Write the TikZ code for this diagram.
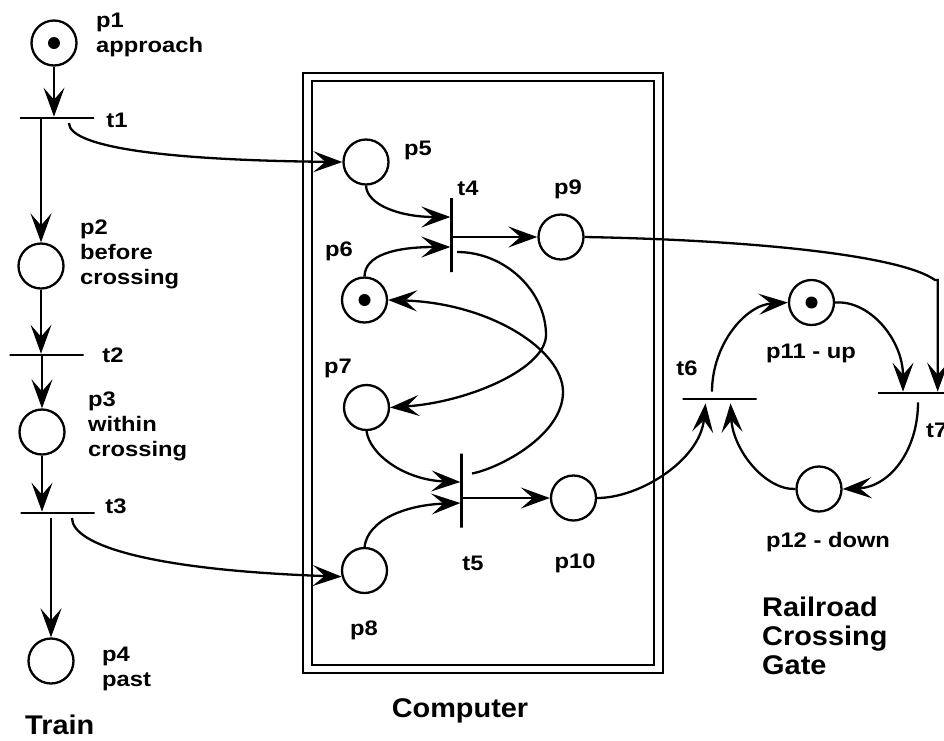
\documentclass[tikz,border=0pt]{standalone}
\usepackage{fontspec}
\setmainfont{Liberation Sans}[FakeStretch=1.13]
\newfontfamily\bigfont{Liberation Sans}[FakeStretch=1.07]
\usetikzlibrary{arrows.meta,calc}
\begin{document}
\begin{tikzpicture}[x=1pt,y=-1pt,
  place/.style={circle,draw,line width=2.3pt,minimum size=45pt,inner sep=0pt},
  token/.style={place,path picture={\fill (path picture bounding box.center) circle (6pt);}},
  hbar/.style={rectangle,draw,line width=2.7pt,minimum width=74pt,minimum height=0pt,inner sep=0pt},
  vbar/.style={rectangle,draw,line width=2.7pt,minimum height=74pt,minimum width=0pt,inner sep=0pt},
  arr/.style={line width=2.3pt,-{Stealth[length=29pt,width=21pt,inset=12pt]}},
  lab/.style={font=\bfseries\fontsize{21}{25}\selectfont,inner sep=0pt,align=left},
  big/.style={font=\bigfont\bfseries\fontsize{27}{29}\selectfont,inner sep=0pt,align=left},
  frame/.style={draw,line width=2.7pt}
]
\path[use as bounding box] (0,0) rectangle (944,740);
\clip (0,0) rectangle (944,740);

% computer frame
\draw[frame] (303,73) rectangle (663,673);
\draw[line width=2.3pt] (312,81) rectangle (654,665);

% train
\node[token] (p1) at (54,43) {};
\node[hbar] (t1) at (57,118) {};
\node[place] (p2) at (41,266) {};
\node[hbar] (t2) at (46.5,355) {};
\node[place] (p3) at (42,432) {};
\node[hbar] (t3) at (57.5,513) {};
\node[place] (p4) at (51,661) {};

% computer
\node[place] (p5) at (366,162) {};
\node[vbar] (t4) at (451.7,235) {};
\node[place] (p9) at (561,237) {};
\node[token] (p6) at (364.5,300) {};
\node[place] (p7) at (366.5,407.5) {};
\node[vbar] (t5) at (461.7,490.5) {};
\node[place] (p10) at (573.5,498) {};
\node[place] (p8) at (364.5,570.5) {};

% gate
\node[hbar] (t6) at (719.5,399) {};
\node[token] (p11) at (811.5,302.5) {};
\node[hbar] (t7) at (915,393) {};
\node[place] (p12) at (819,489) {};

% labels
\node[lab,anchor=north west] (lp1) at (96,13) {p1\\approach};
\node[lab,anchor=north west] (lp2) at (80,220) {p2\\before\\crossing};
\node[lab,anchor=north west] (lp3) at (88,392) {p3\\within\\crossing};
\node[lab,anchor=north west] (lp4) at (102,647) {p4\\past};
\node[lab] (lt1) at (117,120) {t1};
\node[lab] (lt2) at (113,355) {t2};
\node[lab] (lt3) at (116,506) {t3};
\node[lab] (lp5) at (418,150) {p5};
\node[lab] (lt4) at (468,188) {t4};
\node[lab] (lp9) at (568,189) {p9};
\node[lab] (lp6) at (339,251) {p6};
\node[lab] (lp7) at (338,368) {p7};
\node[lab] (lt5) at (473,563) {t5};
\node[lab] (lp10) at (575,563) {p10};
\node[lab] (lp8) at (364,630) {p8};
\node[lab] (lt6) at (687,368) {t6};
\node[lab] (lp11) at (811,353) {p11 - up};
\node[lab] (lp12) at (828,542) {p12 - down};
\node[lab,anchor=west] (lt7) at (926,430) {t7};
\node[big,anchor=north west] (gate) at (762,597) {Railroad\\Crossing\\Gate};
\node[big] (comp) at (460,711) {Computer};
\node[big,anchor=base west] (train) at (25,734) {Train};

% train arcs
\draw[arr] (p1.south) -- (p1.south |- t1.north);
\draw[arr] (p2.north |- t1.south) -- (p2.north);
\draw[arr] (p2.south) -- (p2.south |- t2.north);
\draw[arr] (p3.north |- t2.south) -- (p3.north);
\draw[arr] (p3.south) -- (p3.south |- t3.north);
\draw[arr] ($(p4.north |- t3.south)+(0,4)$) -- (p4.north);
\draw[arr] ($(t1.center)+(12,5)$) .. controls (69,145) and (150,160) .. (p5.west);
\draw[arr] ($(t3.center)+(14.5,5)$) .. controls (72,545) and (150,570) .. (p8.195);

% computer arcs
\draw[arr] (p5.south) .. controls (367,205) and (400,217) .. ($(t4.west)+(0,-18)$);
\draw[arr] (p6.north) .. controls (365,255) and (395,247) .. ($(t4.west)+(0,12)$);
\draw[arr] (t4.east |- p9.west) -- (p9.west);
\draw[arr] ($(t4.east)+(4,17)$) .. controls (506,252) and (546,292) .. (546,335)
   .. controls (546,368) and (470,402) .. (p7.east);
\draw[arr] ($(t5.east)+(9,-17)$) .. controls (500,468) and (563,435) .. (563,392)
   .. controls (563,350) and (490,303) .. (p6.east);
\draw[arr] (p7.south) .. controls (370,455) and (405,480) .. ($(t5.west)+(0,-8.5)$);
\draw[arr] (p8.north) .. controls (368,520) and (405,505) .. ($(t5.west)+(0,12.5)$);
\draw[arr] (t5.east |- p10.west) -- (p10.west);

% gate arcs
\coordinate (bend) at (935,280);
\draw[arr] (p9.east) .. controls (750,240) and (900,255) .. (bend) -- (bend -| 937.7,0) -- ($(t7.north)+(22.7,0)$);
\draw[arr] (p10.east) .. controls (640,498) and (700,460) .. ($(t6.south)+(-14,3)$);
\draw[arr] (p12.west) .. controls (765,490) and (733,450) .. ($(t6.south)+(11,3)$);
\draw[arr] ($(t6.north)+(-7.5,-6)$) .. controls (712,345) and (745,305) .. (p11.west);
\draw[arr] (p11.east) .. controls (870,300) and (903,340) .. ($(t7.north)+(-12,0)$);
\draw[arr] ($(t7.south)+(3,8)$) .. controls (918,450) and (890,487) .. (p12.east);
\end{tikzpicture}
\end{document}
